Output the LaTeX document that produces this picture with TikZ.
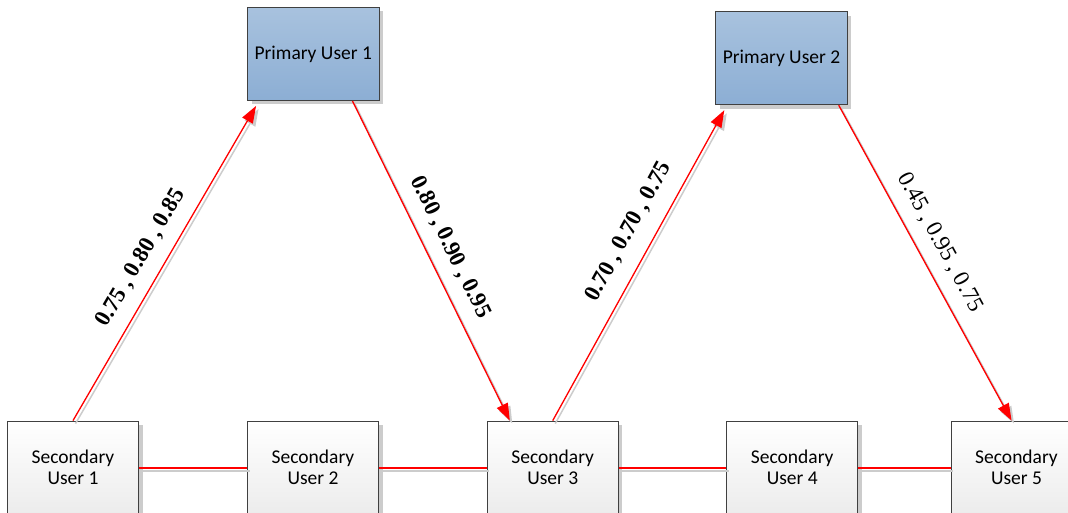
\documentclass[tikz,border=0pt]{standalone}
\usepackage{fontspec}
\setmainfont{Carlito}
\newfontfamily\valuefont{Liberation Serif}
\usetikzlibrary{arrows.meta,calc,shadows}

\definecolor{boxedge}{RGB}{64,64,64}
\definecolor{pubtop}{RGB}{168,194,222}
\definecolor{pubbot}{RGB}{140,174,212}
\definecolor{subbot}{RGB}{236,236,236}
\definecolor{shadowgray}{RGB}{204,204,204}
\definecolor{linkred}{RGB}{255,0,0}

\tikzset{
  x=1pt, y=-1pt,
  userbox/.style={draw=boxedge, line width=0.9pt, align=center, inner sep=0pt,
    font=\fontsize{19.5}{21}\selectfont,
    drop shadow={shadow xshift=4pt, shadow yshift=-4pt, fill=shadowgray, opacity=1}},
  primarybox/.style={userbox, minimum width=131.5pt, minimum height=93pt,
    top color=pubtop, bottom color=pubbot},
  secondarybox/.style={userbox, minimum width=131pt, minimum height=93pt,
    top color=white, bottom color=subbot},
  linkshadow/.style={draw=shadowgray, line width=1.5pt,
    transform canvas={xshift=2.5pt, yshift=-3pt}},
  link/.style={draw=linkred, line width=1.3pt},
  tipmark/.style={-{Triangle[length=17pt,width=12pt]}},
  value/.style={sloped, inner sep=0pt, font=\valuefont\fontsize{23}{24}\selectfont},
  boldvalue/.style={value, font=\valuefont\bfseries\fontsize{23}{24}\selectfont},
}

\begin{document}
\begin{tikzpicture}
\useasboundingbox (0,0) rectangle (1068,513);
\clip (0,0) rectangle (1068,513);

% primary users
\node[primarybox] (pu1) at (313.25,54) {Primary User 1};
\node[primarybox] (pu2) at (781.5,58.25) {Primary User 2};

% secondary users
\node[secondarybox] (su1) at (73,467.5) {Secondary\\User 1};
\node[secondarybox] (su2) at (313,467.5) {Secondary\\User 2};
\node[secondarybox] (su3) at (552.75,467.5) {Secondary\\User 3};
\node[secondarybox] (su4) at (792.25,467.5) {Secondary\\User 4};
\node[secondarybox] (su5) at (1016.5,467.5) {Secondary\\User 5};

% shadows of the links
\foreach \a/\b in {su1/su2, su2/su3, su3/su4, su4/su5}
  \draw[linkshadow] ([yshift=-0.5pt]\a.east) -- ([yshift=-0.5pt]\b.west);
\draw[linkshadow, tipmark, fill=shadowgray] (su1.north) -- ([shift={(9,5)}]pu1.south west);
\draw[linkshadow, tipmark, fill=shadowgray] ([xshift=-27pt]pu1.south east) -- ([xshift=23pt]su3.north west);
\draw[linkshadow, tipmark, fill=shadowgray] (su3.north) -- ([shift={(9,5)}]pu2.south west);
\draw[linkshadow, tipmark, fill=shadowgray] ([xshift=-9pt]pu2.south east) -- ([xshift=61pt]su5.north west);

% links between neighbouring secondary users
\foreach \a/\b in {su1/su2, su2/su3, su3/su4, su4/su5}
  \draw[link] ([yshift=-0.5pt]\a.east) -- ([yshift=-0.5pt]\b.west);

% sensing links with their values
\draw[link, tipmark, fill=linkred] (su1.north) -- ([shift={(9,5)}]pu1.south west)
  node[boldvalue, pos=0.48, above=13pt] (v1) {0.75 , 0.80 , 0.85};
\draw[link, tipmark, fill=linkred] ([xshift=-27pt]pu1.south east) -- ([xshift=23pt]su3.north west)
  node[boldvalue, pos=0.49, above=13pt] (v2) {0.80 , 0.90 , 0.95};
\draw[link, tipmark, fill=linkred] (su3.north) -- ([shift={(9,5)}]pu2.south west)
  node[boldvalue, pos=0.57, above=15pt] (v3) {0.70 , 0.70 , 0.75};
\draw[link, tipmark, fill=linkred] ([xshift=-9pt]pu2.south east) -- ([xshift=61pt]su5.north west)
  node[value, pos=0.47, above=13pt] (v4) {0.45 , 0.95 , 0.75};
\end{tikzpicture}
\end{document}
